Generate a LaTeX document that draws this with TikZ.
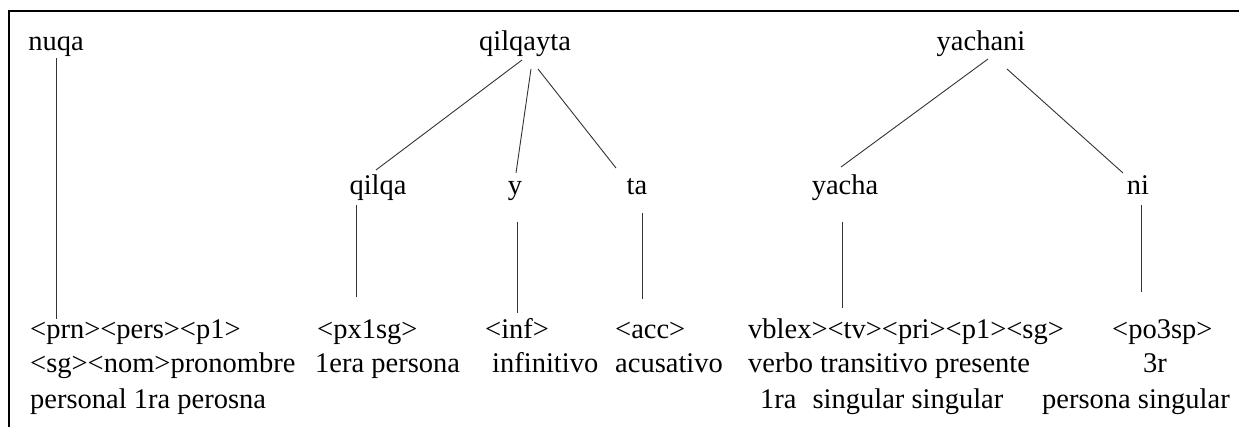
\documentclass[tikz,border=0pt]{standalone}
\usepackage{fontspec}
\setmainfont{Liberation Serif}
\usetikzlibrary{calc}
\tikzset{
  word/.style={inner sep=0pt, anchor=base, font=\fontsize{28.5}{35}\selectfont},
  gloss/.style={inner sep=0pt, anchor=base west, font=\fontsize{28.5}{35}\selectfont},
  branch/.style={draw=black!80, line width=0.9pt},
  frame/.style={draw=black, line width=1.6pt}
}
\begin{document}
\begin{tikzpicture}[x=1pt, y=-1pt]
  \useasboundingbox (0,0) rectangle (1239,427);
  % open frame: top and left rules only
  \draw[frame] (1239,11) -- (9,11) -- (9,427);

  % words
  \node[word] (nuqa)     at (56,51)   {nuqa};
  \node[word] (qilqayta) at (525,51)  {qilqayta};
  \node[word] (yachani)  at (981,51)  {yachani};

  % morphemes
  \node[word] (qilqa) at (378,195)  {qilqa};
  \node[word] (ny)    at (515,195)  {y};
  \node[word] (ta)    at (637,195)  {ta};
  \node[word] (yacha) at (845,195)  {yacha};
  \node[word] (ni)    at (1138,195) {ni};

  % tags and glosses
  \node[gloss] (b1a) at (30,338) {<prn><pers><p1>};
  \node[gloss] (b1b) at (30,373) {<sg><nom>pronombre};
  \node[gloss] (b1c) at (30,408) {personal 1ra perosna};

  \node[gloss] (b2a) at (317,338) {<px1sg>};
  \node[gloss] (b2b) at (315,373) {1era persona};

  \node[gloss] (b3a) at (485,338) {<inf>};
  \node[gloss] (b3b) at (492,373) {infinitivo};

  \node[gloss] (b4a) at (615,338) {<acc>};
  \node[gloss] (b4b) at (615,373) {acusativo};

  \node[gloss] (b5a) at (748,338) {vblex><tv><pri><p1><sg>};
  \node[gloss] (b5b) at (748,373) {verbo transitivo presente};
  \node[gloss] (b5c) at (760,408) {1ra\hspace{16pt}singular singular};

  \node[gloss] (b6a) at (1112,338) {<po3sp>};
  \node[gloss] (b6b) at (1143,373) {3r};
  \node[gloss] (b6c) at (1042,408) {persona singular};

  % tree branches
  \draw[branch] ($(qilqayta.base)+(-3,9)$) -- ($(qilqa.base)+(-2,-25)$);
  \draw[branch] ($(qilqayta.base)+(6,18)$) -- ($(ny.base)+(1,-22)$);
  \draw[branch] ($(qilqayta.base)+(13,18)$) -- ($(ta.base)+(-21,-27)$);
  \draw[branch] ($(yachani.base)+(7,8)$) -- ($(yacha.base)+(-4,-28)$);
  \draw[branch] ($(yachani.base)+(26,18)$) -- ($(ni.base)+(-15,-22)$);

  % analysis links
  \draw[branch] ($(nuqa.base)+(0,7)$) -- ($(b1a.base west)+(26,-19)$);
  \draw[branch] ($(qilqa.base)+(-22,10)$) -- ($(b2a.base west)+(39,-41)$);
  \draw[branch] ($(ny.base)+(2,27)$) -- ($(b3a.base west)+(32,-25)$);
  \draw[branch] ($(ta.base)+(5,18)$) -- ($(b4a.base west)+(27,-39)$);
  \draw[branch] ($(yacha.base)+(-3,27)$) -- ($(b5a.base west)+(94,-30)$);
  \draw[branch] ($(ni.base)+(3,10)$) -- ($(b6a.base west)+(29,-46)$);
\end{tikzpicture}
\end{document}
